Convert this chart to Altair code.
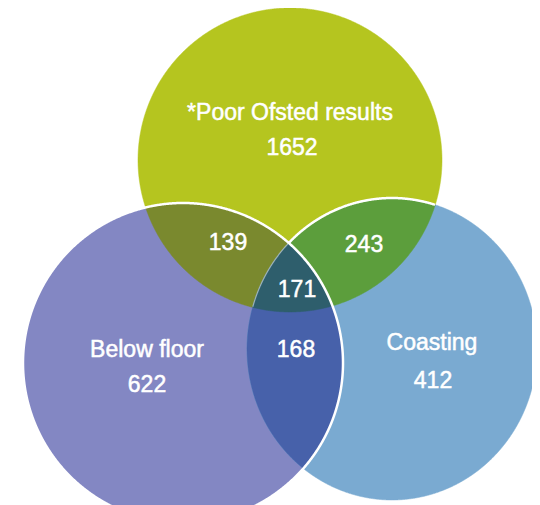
import math
import altair as alt
import pandas as pd

# ---------------- data ----------------
set_names = ["*Poor Ofsted results", "Below floor", "Coasting"]
only_counts = [1652, 622, 412]
pair_names = ["Ofsted & Below floor", "Ofsted & Coasting", "Below floor & Coasting"]
pair_counts = [139, 243, 168]
triple_name = "All three"
triple_count = 171

# ---------------- layout (window pixel coordinates) ----------------
W, H = 524, 497
X_DOM = [8, 532]
Y_DOM = [8, 505]
# (cx, cy, rx, ry)
SHAPES = {"T": (290, 160, 152, 152), "L": (183, 363, 160, 160), "R": (392, 349, 145, 151)}
REGION_ORDER = [("T",), ("L",), ("R",), ("T", "L"), ("T", "R"), ("L", "R"), ("T", "L", "R")]
REGION_COLORS = {
    ("T",): "#b5c51f",
    ("L",): "#8387c3",
    ("R",): "#7aaad1",
    ("T", "L"): "#7a892e",
    ("T", "R"): "#5c9e3c",
    ("L", "R"): "#4761aa",
    ("T", "L", "R"): "#2e5e6c",
}
NAME_POS = [(290, 120), (147, 357), (432, 350)]
COUNT_POS = [(292, 155), (147, 392), (433, 388)]
PAIR_POS = [(228, 250), (364, 252), (296, 357)]
TRIPLE_POS = (297, 297)
FONT = "Liberation Sans"
FS = 23
N = 1440


def inside(px, py, s, tol=0.0002):
    cx, cy, rx, ry = s
    return ((px - cx) / rx) ** 2 + ((py - cy) / ry) ** 2 <= 1 + tol


def region_polygon(members):
    pts = []
    for m in members:
        cx, cy, rx, ry = SHAPES[m]
        for k in range(N):
            a = 2 * math.pi * k / N
            px, py = cx + rx * math.cos(a), cy + ry * math.sin(a)
            if all(inside(px, py, SHAPES[o]) for o in members if o != m):
                pts.append((px, py))
    mx = sum(p[0] for p in pts) / len(pts)
    my = sum(p[1] for p in pts) / len(pts)
    pts.sort(key=lambda p: math.atan2(p[1] - my, p[0] - mx))
    pts.append(pts[0])
    return pd.DataFrame({"x": [p[0] for p in pts], "y": [p[1] for p in pts], "i": range(len(pts))})


def arc(name, cond):
    cx, cy, rx, ry = SHAPES[name]
    rows = []
    for k in range(N + 1):
        a = -math.pi + 2 * math.pi * k / N
        px, py = cx + rx * math.cos(a), cy + ry * math.sin(a)
        if cond(px, py):
            rows.append((px, py))
    return pd.DataFrame({"x": [p[0] for p in rows], "y": [p[1] for p in rows], "i": range(len(rows))})


xs = alt.Scale(domain=X_DOM, nice=False, zero=False)
ys = alt.Scale(domain=Y_DOM, nice=False, zero=False, reverse=True)


def enc(ch):
    return ch.encode(
        x=alt.X("x:Q", scale=xs, axis=None),
        y=alt.Y("y:Q", scale=ys, axis=None),
        order=alt.Order("i:Q"),
    )


layers = []
for reg in REGION_ORDER:
    col = REGION_COLORS[reg]
    df = region_polygon(reg)
    layers.append(enc(alt.Chart(df).mark_line(fill=col, stroke=col, strokeWidth=0.5)))

# white outlines
layers.append(enc(alt.Chart(arc("L", lambda x, y: True)).mark_line(stroke="white", strokeWidth=2.5)))
layers.append(enc(alt.Chart(arc("R", lambda x, y: inside(x, y, SHAPES["T"]) and not inside(x, y, SHAPES["L"])))
                  .mark_line(stroke="white", strokeWidth=2.5)))
layers.append(enc(alt.Chart(arc("R", lambda x, y: inside(x, y, SHAPES["T"]) and inside(x, y, SHAPES["L"])))
                  .mark_line(stroke="white", strokeWidth=1.2, strokeOpacity=0.5)))

# labels
txt_rows = []
for name, pos in zip(set_names, NAME_POS):
    txt_rows.append({"x": pos[0], "y": pos[1], "t": name})
for cnt, pos in zip(only_counts, COUNT_POS):
    txt_rows.append({"x": pos[0], "y": pos[1], "t": str(cnt)})
for cnt, pos in zip(pair_counts, PAIR_POS):
    txt_rows.append({"x": pos[0], "y": pos[1], "t": str(cnt)})
txt_rows.append({"x": TRIPLE_POS[0], "y": TRIPLE_POS[1], "t": str(triple_count)})
tdf = pd.DataFrame(txt_rows)

text = alt.Chart(tdf).mark_text(
    font=FONT, fontSize=FS, fill="white", stroke="white", strokeWidth=0.5,
    align="center", baseline="alphabetic"
).encode(
    x=alt.X("x:Q", scale=xs, axis=None),
    y=alt.Y("y:Q", scale=ys, axis=None),
    text="t:N",
)
layers.append(text)

chart = alt.layer(*layers).properties(
    width=W, height=H, autosize=alt.AutoSizeParams(type="none"), padding=0, background="white"
).configure_view(strokeWidth=0)

chart.save("out.html", embed_options={"renderer": "svg", "actions": False})
